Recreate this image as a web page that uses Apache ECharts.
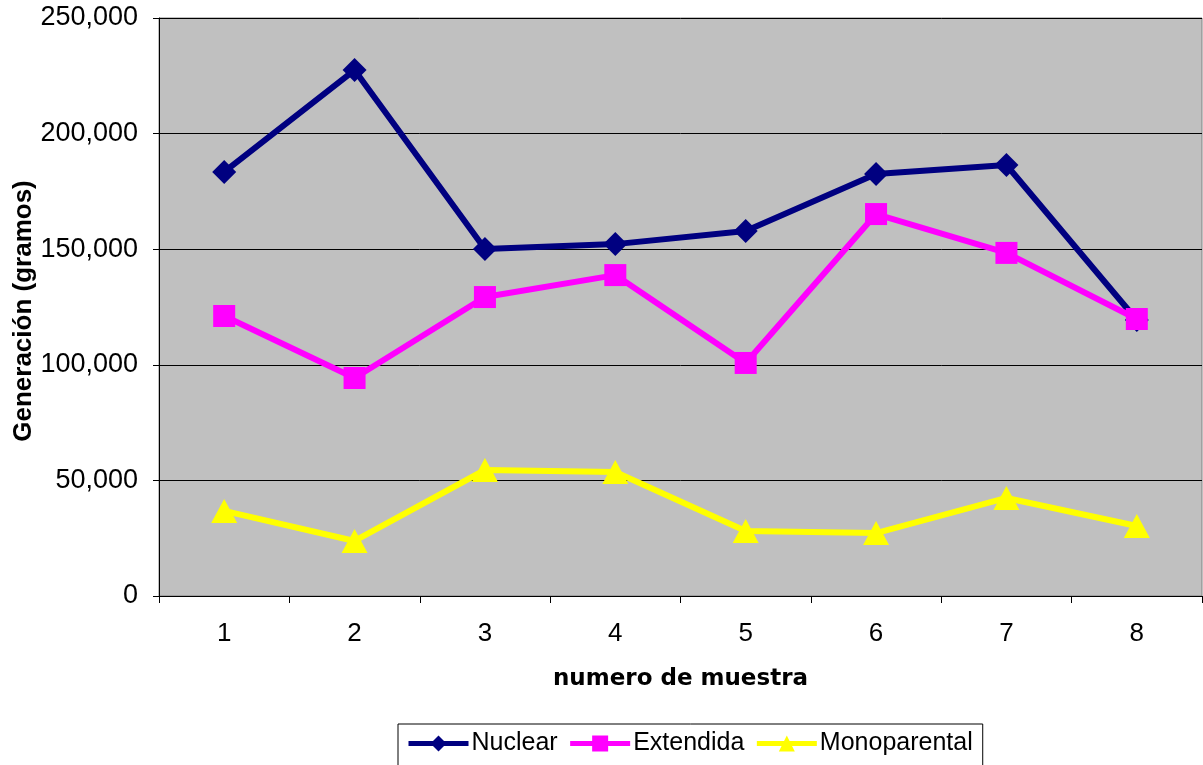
<!DOCTYPE html>
<html><head><meta charset="utf-8">
<script src="https://cdn.jsdelivr.net/npm/echarts@6/dist/echarts.min.js"></script>
<style>html,body{margin:0;padding:0;background:#fff}#c{width:1203px;height:765px}</style>
</head><body><div id="c"></div>
<script>
const categories = ['1','2','3','4','5','6','7','8'];
const nuclear = [183400, 227500, 150100, 152200, 157900, 182500, 186400, 119400];
const extendida = [121100, 94300, 129300, 138800, 100800, 165200, 148400, 119800];
const monoparental = [36800, 23800, 54500, 53600, 28100, 27200, 42400, 30300];
const seriesNames = ['Nuclear', 'Extendida', 'Monoparental'];
const yTicks = {min: 0, max: 250000, interval: 50000};

const chart = echarts.init(document.getElementById('c'), null, {renderer: 'canvas'});
const FONT = 'Liberation Sans, Arial, sans-serif';
chart.setOption({
  animation: false,
  backgroundColor: '#fff',
  grid: {left: 159, right: 1, top: 18, bottom: 169, show: true, containLabel: false, outerBoundsMode: 'none',
         backgroundColor: '#C0C0C0', borderColor: '#808080', borderWidth: 1},
  legend: {
    top: 724, left: 398,
    data: seriesNames,
    itemWidth: 60, itemHeight: 20, itemGap: 10,
    padding: [7, 10, 20, 8],
    borderColor: '#000', borderWidth: 1,
    lineStyle: {width: 5},
    textStyle: {fontFamily: FONT, fontSize: 25, color: '#000', padding: [0, 0, 0, -2]}
  },
  xAxis: {
    type: 'category', data: categories, boundaryGap: true,
    name: 'numero de muestra', nameLocation: 'middle', nameGap: 72, nameMoveOverlap: false,
    nameTextStyle: {fontFamily: 'DejaVu Sans, sans-serif', fontWeight: 'bold', fontSize: 23, color: '#000'},
    axisLine: {lineStyle: {color: '#000', width: 1}},
    axisTick: {show: true, length: 7, interval: 0, lineStyle: {color: '#000'}},
    axisLabel: {fontFamily: FONT, fontSize: 26, color: '#000', margin: 25},
    splitLine: {show: false}
  },
  yAxis: {
    type: 'value', min: yTicks.min, max: yTicks.max, interval: yTicks.interval,
    name: 'Generación (gramos)', nameLocation: 'middle', nameGap: 122, nameMoveOverlap: false,
    nameTextStyle: {fontFamily: FONT, fontWeight: 'bold', fontSize: 26, color: '#000', padding: [0, 8, 0, 0]},
    axisLine: {show: true, lineStyle: {color: '#000', width: 1}},
    axisTick: {show: true, length: 6, lineStyle: {color: '#000'}},
    axisLabel: {fontFamily: FONT, fontSize: 27, color: '#000', margin: 21,
      formatter: v => v === 0 ? '0' : v.toLocaleString('en-US')},
    splitLine: {show: true, lineStyle: {color: '#000', width: 1}}
  },
  series: [
    {name: seriesNames[0], type: 'line', data: nuclear, symbol: 'diamond', symbolSize: 24,
     lineStyle: {color: '#000080', width: 6}, itemStyle: {color: '#000080'}, z: 2},
    {name: seriesNames[1], type: 'line', data: extendida, symbol: 'rect', symbolSize: 22,
     lineStyle: {color: '#FF00FF', width: 6}, itemStyle: {color: '#FF00FF'}, z: 3},
    {name: seriesNames[2], type: 'line', data: monoparental, symbol: 'triangle', symbolSize: [26, 24],
     lineStyle: {color: '#FFFF00', width: 6}, itemStyle: {color: '#FFFF00'}, z: 4}
  ]
});
</script></body></html>
